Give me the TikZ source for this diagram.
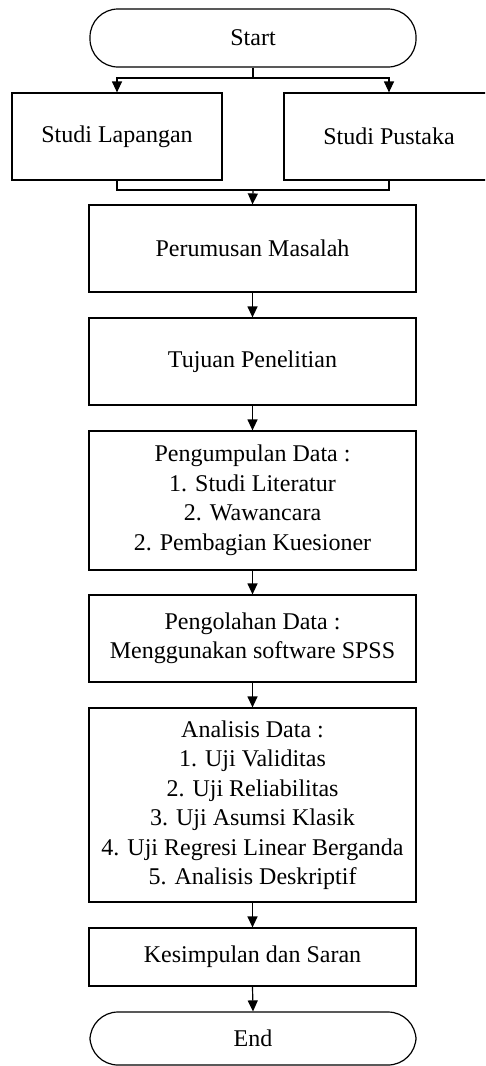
\documentclass[tikz,border=0pt]{standalone}
\usepackage{fontspec}
\setmainfont{Liberation Serif}
\usetikzlibrary{arrows.meta}
\begin{document}
\begin{tikzpicture}[x=1pt,y=-1pt,
  every node/.style={font=\fontsize{24}{29.5}\selectfont},
  box/.style={draw,line width=1.2pt,inner sep=0pt,align=center,minimum width=327pt},
  term/.style={draw,line width=1.2pt,inner sep=0pt,align=center,minimum width=326pt,rounded corners=28pt},
  con/.style={line width=1.2pt},
  arr/.style={line width=1.2pt,-{Triangle[length=11pt,width=10pt]}}]
\useasboundingbox (0,0) rectangle (485,1066);
\clip (0,0) rectangle (485,1066);
\node[term,minimum height=58pt] (start) at (253,38) {Start};
\node[box,minimum width=210pt,minimum height=87pt] (lap) at (117,136.5) {Studi Lapangan};
\node[box,minimum width=210pt,minimum height=87pt] (pus) at (389,136.5) {Studi Pustaka};
\node[box,minimum height=87pt] (rum) at (252.5,248.5) {Perumusan Masalah};
\node[box,minimum height=87pt] (tuj) at (252.5,361.5) {Tujuan Penelitian};
\node[box,minimum height=139pt] (kum) at (252.5,500.5) {Pengumpulan Data :\\1. Studi Literatur\\2. Wawancara\\2. Pembagian Kuesioner};
\node[box,minimum height=87pt] (olah) at (252.5,638.5) {Pengolahan Data :\\Menggunakan software SPSS};
\node[box,minimum height=194pt] (anal) at (252.5,805) {Analisis Data :\\1. Uji Validitas\\2. Uji Reliabilitas\\3. Uji Asumsi Klasik\\4. Uji Regresi Linear Berganda\\5. Analisis Deskriptif};
\node[box,minimum height=58pt] (kes) at (252.5,957) {Kesimpulan dan Saran};
\node[term,minimum height=53pt] (end) at (253,1038.5) {End};
\coordinate (split) at (253,78);
\coordinate (merge) at (253,190);
\draw[con] (start.south) -- (split);
\draw[arr] (split) -| (lap.north);
\draw[arr] (split) -| (pus.north);
\draw[con] (lap.south) |- (merge) -| (pus.south);
\draw[arr] (merge) -- (rum.north);
\draw[arr] (rum.south) -- (tuj.north);
\draw[arr] (tuj.south) -- (kum.north);
\draw[arr] (kum.south) -- (olah.north);
\draw[arr] (olah.south) -- (anal.north);
\draw[arr] (anal.south) -- (kes.north);
\draw[arr] (kes.south) -- (end.north);
\end{tikzpicture}
\end{document}
